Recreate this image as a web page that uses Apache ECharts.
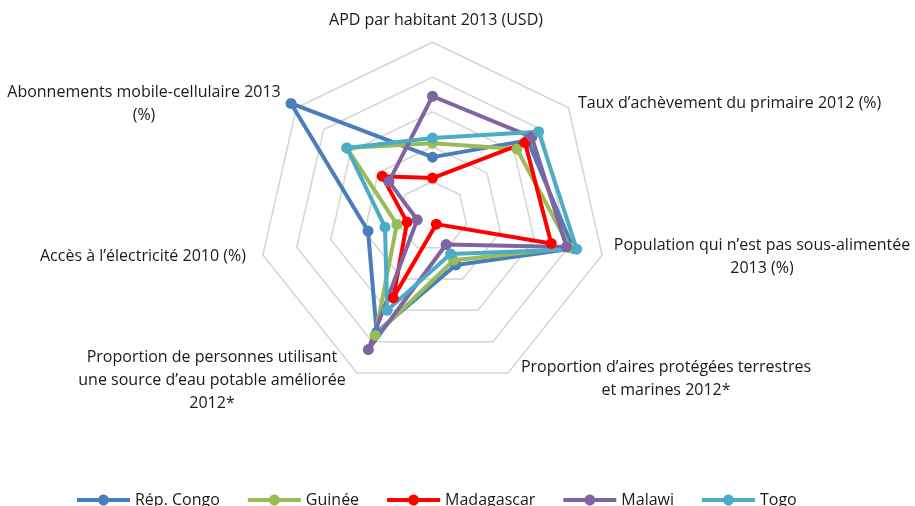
<!DOCTYPE html>
<html>
<head>
<meta charset="utf-8">
<script src="https://cdn.jsdelivr.net/npm/echarts@6/dist/echarts.min.js"></script>
<style>
  html, body { margin: 0; padding: 0; background: #fff; }
  #chart { width: 915px; height: 506px; }
</style>
</head>
<body>
<div id="chart"></div>
<script>
// indicators, clockwise from the top (as in the original)
const indicators = [
  'APD par habitant 2013 (USD)',
  'Taux d\u2019achèvement du primaire 2012 (%)',
  'Population qui n\u2019est pas sous-alimentée 2013 (%)',
  'Proportion d\u2019aires protégées terrestres et marines 2012*',
  'Proportion de personnes utilisant une source d\u2019eau potable améliorée 2012*',
  'Accès à l\u2019électricité 2010 (%)',
  'Abonnements mobile-cellulaire 2013 (%)'
]

// normalised scores (0-100), same order as indicators
const congo = [34, 70, 83, 31, 74, 38, 104]
const guinee = [42, 62, 81, 28, 76, 21, 63]
const madagascar = [22, 68, 70, 5, 52, 15, 37]
const malawi = [69, 73, 79, 18, 85, 9, 32]
const togo = [45, 78, 85, 24, 60, 28, 63]

const seriesNames = ['Rép. Congo', 'Guinée', 'Madagascar', 'Malawi', 'Togo']
const seriesColors = ['#4A7EBB', '#9BBB59', '#FF0000', '#8064A2', '#4BACC6']

// echarts walks the indicators counter-clockwise, excel clockwise
const reorder = (arr) => [arr[0]].concat(arr.slice(1).reverse())

const font = '"Open Sans", "DejaVu Sans", sans-serif'
const textColor = '#1a1a1a'

const label = (text, x, y, align) => ({
  type: 'text',
  x,
  y,
  silent: true,
  style: {
    text,
    fill: textColor,
    fontFamily: font,
    fontSize: 16,
    lineHeight: 23,
    align: align || 'center',
    verticalAlign: 'middle',
  },
})

const legendIcon = 'path://M0 3.5 H22.3 A5.5 5.5 0 0 1 32.7 3.5 H55 V7.5 H32.7 A5.5 5.5 0 0 1 22.3 7.5 H0 Z'

const chart = echarts.init(document.getElementById('chart'), null, { renderer: 'canvas' })

chart.setOption({
  animation: false,
  backgroundColor: '#fff',
  color: seriesColors,
  legend: {
    left: 72,
    top: 487,
    itemWidth: 55,
    itemHeight: 11,
    itemGap: 28,
    icon: legendIcon,
    data: seriesNames,
    textStyle: {
      color: textColor,
      fontFamily: font,
      fontSize: 16,
      padding: [0, 0, 0, -1],
    },
  },
  radar: {
    center: [432.5, 216.3],
    radius: 174,
    startAngle: 90,
    shape: 'polygon',
    splitNumber: 5,
    indicator: reorder(indicators).map((name) => ({ name, min: 0, max: 100 })),
    axisName: { show: false },
    axisLine: { show: false },
    axisTick: { show: false },
    axisLabel: { show: false },
    splitArea: { show: false },
    splitLine: {
      lineStyle: { color: '#D4D4D4', width: 1.5 },
    },
  },
  graphic: [
    label('APD par habitant 2013 (USD)', 436, 20),
    label('Taux d\u2019achèvement du primaire 2012 (%)', 578, 103, 'left'),
    label('Population qui n\u2019est pas sous-alimentée\n2013 (%)', 762, 256.5),
    label('Proportion d\u2019aires protégées terrestres\net marines 2012*', 666, 379),
    label('Proportion de personnes utilisant\nune source d\u2019eau potable améliorée\n2012*', 212, 380),
    label('Accès à l\u2019électricité 2010 (%)', 40, 256, 'left'),
    label('Abonnements mobile-cellulaire 2013\n(%)', 144, 103.5),
  ],
  series: [
    {
      type: 'radar',
      symbol: 'circle',
      symbolSize: 11,
      lineStyle: { width: 4 },
      emphasis: { disabled: true },
      data: [congo, guinee, madagascar, malawi, togo].map((values, i) => ({
        name: seriesNames[i],
        value: reorder(values),
        itemStyle: { color: seriesColors[i] },
        lineStyle: { color: seriesColors[i], width: 4 },
      })),
    },
  ],
})
</script>
</body>
</html>
